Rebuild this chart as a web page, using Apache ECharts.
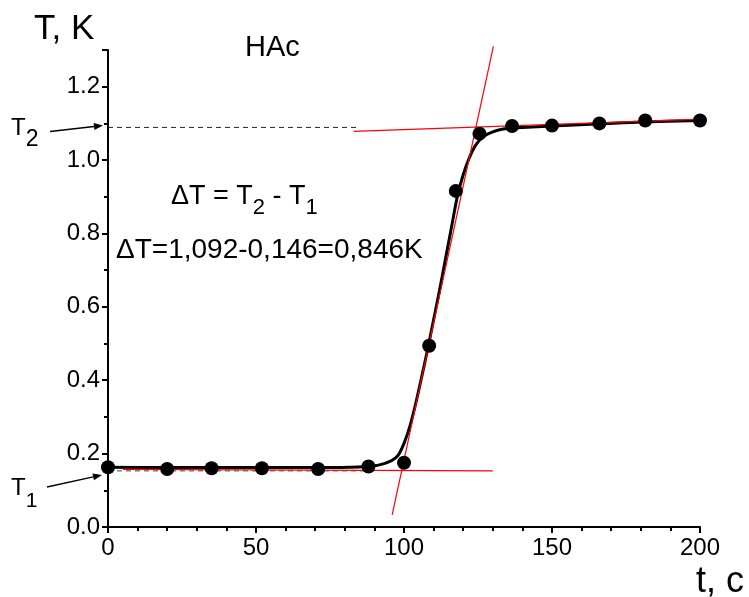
<!DOCTYPE html>
<html>
<head>
<meta charset="utf-8">
<script src="https://cdn.jsdelivr.net/npm/echarts@6/dist/echarts.min.js"></script>
<style>
  html, body { margin: 0; padding: 0; background: #fff; }
  #main { width: 749px; height: 597px; }
</style>
</head>
<body>
<div id="main"></div>
<script>
// measured points, t (c) and T (K)
var timePoints = [0, 20, 35, 52, 71, 88, 100, 108.5, 117.5, 125.5, 136.5, 150, 166, 181.5, 200];
var tempPoints = [0.163, 0.158, 0.160, 0.160, 0.158, 0.165, 0.175, 0.494, 0.916, 1.072, 1.093, 1.094, 1.100, 1.108, 1.108];

// fitted sigmoid
var fitTimes = [0, 20, 40, 60, 75, 82, 86, 90, 92, 94, 96, 98, 100, 102, 104, 106, 108, 110, 112, 114, 116, 118, 120, 122, 124, 126, 128, 130, 132, 135, 140, 150, 165, 180, 200];
var fitTemps = [0.163, 0.162, 0.162, 0.162, 0.162, 0.163, 0.164, 0.167, 0.170, 0.175, 0.182, 0.195, 0.228, 0.275, 0.338, 0.41, 0.485, 0.565, 0.645, 0.73, 0.815, 0.9, 0.96, 1.005, 1.038, 1.058, 1.07, 1.077, 1.082, 1.086, 1.089, 1.093, 1.098, 1.104, 1.108];

// red tangents and dashed guide lines
var lowTangent = [[5, 0.157], [130, 0.153]];
var highTangent = [[83, 1.078], [217, 1.116]];
var steepTangent = [[96, 0.033], [130.2, 1.31]];
var t1Guide = [[0, 0.153], [90, 0.153]];
var t2Guide = [[0, 1.089], [85, 1.089]];

var xTicks = [0, 50, 100, 150, 200];
var yTicks = [0.0, 0.2, 0.4, 0.6, 0.8, 1.0, 1.2];

function pairs(xs, ys) {
  return xs.map(function (x, i) { return [x, ys[i]]; });
}

var font = 'Liberation Sans, Arial, sans-serif';
var ctx = document.createElement('canvas').getContext('2d');
function textWidth(s, size) {
  ctx.font = size + 'px ' + font;
  return ctx.measureText(s).width;
}

// a run of text pieces laid left to right, each piece [text, size, centerY]
function run(x, pieces) {
  var out = [];
  pieces.forEach(function (p) {
    out.push({ type: 'text', x: x, y: p[2], z: 100,
      style: { text: p[0], fontFamily: font, fontSize: p[1], fill: '#000', verticalAlign: 'middle', align: 'left' } });
    x += textWidth(p[0], p[1]);
  });
  return out;
}

// arrow drawn with graphic: line + small head
function arrow(x1, y1, x2, y2) {
  var a = Math.atan2(y2 - y1, x2 - x1), L = 9, W = 3.5;
  var bx = x2 - L * Math.cos(a), by = y2 - L * Math.sin(a);
  return [
    { type: 'line', shape: { x1: x1, y1: y1, x2: bx, y2: by }, style: { stroke: '#000', lineWidth: 1.3 } },
    { type: 'polygon', shape: { points: [[x2, y2], [bx - W * Math.sin(a), by + W * Math.cos(a)], [bx + W * Math.sin(a), by - W * Math.cos(a)]] }, style: { fill: '#000' } }
  ];
}

var graphics = []
  .concat(run(34, [['T, K', 35, 29]]))
  .concat(run(696, [['t, c', 36, 582]]))
  .concat(run(245, [['HAc', 29, 48]]))
  .concat(run(171, [['\u0394T = T', 27, 197], ['2', 22, 208], [' - T', 27, 197], ['1', 22, 208]]))
  .concat(run(116, [['\u0394T=1,092-0,146=0,846K', 28, 250]]))
  .concat(run(11, [['T', 24, 128], ['2', 23, 140]]))
  .concat(run(11, [['T', 24, 488], ['1', 21, 501]]))
  .concat(arrow(50, 131.5, 103, 125.5))
  .concat(arrow(47, 487, 102, 475));

var lineStyleRed = { color: '#ff0000', width: 1.2 };
var axisBlack = { color: '#000', width: 2 };

var chart = echarts.init(document.getElementById('main'));
chart.setOption({
  animation: false,
  backgroundColor: '#fff',
  grid: { left: 108, right: 49, top: 50, bottom: 70, containLabel: false },
  xAxis: {
    type: 'value', min: 0, max: 200, interval: 50,
    axisLine: { lineStyle: axisBlack },
    axisTick: { show: true, length: 6, lineStyle: axisBlack },
    minorTick: { show: true, splitNumber: 5, length: 4, lineStyle: axisBlack },
    axisLabel: { color: '#000', fontSize: 24, fontFamily: font, margin: 9,
      formatter: function (v) { return xTicks.indexOf(v) >= 0 ? String(v) : ''; } },
    splitLine: { show: false }
  },
  yAxis: {
    type: 'value', min: 0, max: 1.3, interval: 0.2,
    axisLine: { lineStyle: axisBlack },
    axisTick: { show: true, length: 6, lineStyle: axisBlack },
    minorTick: { show: true, splitNumber: 2, length: 4, lineStyle: axisBlack },
    axisLabel: { color: '#000', fontSize: 24, fontFamily: font, margin: 8, showMaxLabel: false,
      formatter: function (v) {
        var r = Math.round(v * 10) / 10;
        return yTicks.indexOf(r) >= 0 && Math.abs(r - v) < 1e-6 ? r.toFixed(1) : '';
      } },
    splitLine: { show: false }
  },
  series: [
    { type: 'line', data: t1Guide, symbol: 'none', clip: false, lineStyle: { color: '#444', width: 1, type: [5, 4] }, z: 1 },
    { type: 'line', data: t2Guide, symbol: 'none', clip: false, lineStyle: { color: '#222', width: 1, type: [5, 4] }, z: 1 },
    { type: 'line', data: lowTangent, symbol: 'none', clip: false, lineStyle: lineStyleRed, z: 3 },
    { type: 'line', data: highTangent, symbol: 'none', clip: false, lineStyle: lineStyleRed, z: 3 },
    { type: 'line', data: steepTangent, symbol: 'none', clip: false, lineStyle: lineStyleRed, z: 3 },
    { type: 'line', data: pairs(fitTimes, fitTemps), symbol: 'none', smooth: 0.25,
      lineStyle: { color: '#000', width: 3 }, z: 2 },
    { type: 'scatter', data: pairs(timePoints, tempPoints), symbol: 'circle', symbolSize: 14,
      itemStyle: { color: '#000', opacity: 1 }, z: 4 }
  ],
  graphic: graphics
});
</script>
</body>
</html>
